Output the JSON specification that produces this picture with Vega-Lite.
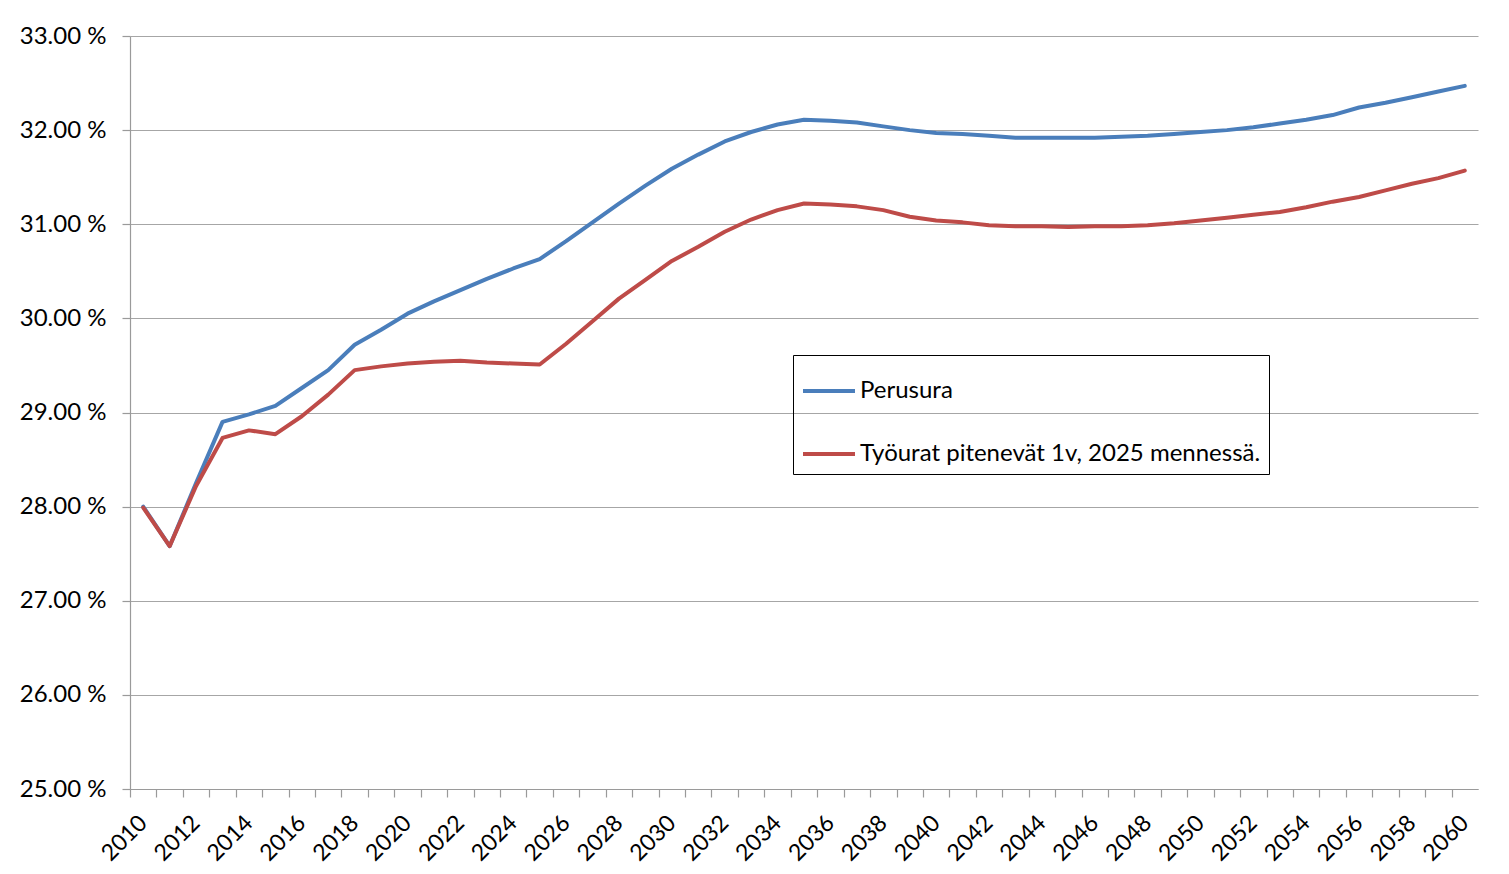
{
  "$schema": "https://vega.github.io/schema/vega-lite/v6.json",
  "autosize": {"type": "none"},
  "width": 1348,
  "height": 753,
  "padding": {"left": 130, "top": 36, "right": 31, "bottom": 85},
  "background": "white",
  "config": {
    "font": "Lato",
    "view": {"stroke": null},
    "axis": {"labelFont": "Lato", "labelColor": "#000000", "domainColor": "#9a9a9a", "tickColor": "#9a9a9a", "gridColor": "#a6a6a6", "gridWidth": 1.2, "domainWidth": 1.2, "tickWidth": 1.2}
  },
  "data": {"values": [
    {"year": 2010, "series": "Perusura", "value": 28.00},
    {"year": 2011, "series": "Perusura", "value": 27.58},
    {"year": 2012, "series": "Perusura", "value": 28.25},
    {"year": 2013, "series": "Perusura", "value": 28.90},
    {"year": 2014, "series": "Perusura", "value": 28.98},
    {"year": 2015, "series": "Perusura", "value": 29.07},
    {"year": 2016, "series": "Perusura", "value": 29.26},
    {"year": 2017, "series": "Perusura", "value": 29.45},
    {"year": 2018, "series": "Perusura", "value": 29.72},
    {"year": 2019, "series": "Perusura", "value": 29.88},
    {"year": 2020, "series": "Perusura", "value": 30.05},
    {"year": 2021, "series": "Perusura", "value": 30.18},
    {"year": 2022, "series": "Perusura", "value": 30.30},
    {"year": 2023, "series": "Perusura", "value": 30.42},
    {"year": 2024, "series": "Perusura", "value": 30.53},
    {"year": 2025, "series": "Perusura", "value": 30.63},
    {"year": 2026, "series": "Perusura", "value": 30.82},
    {"year": 2027, "series": "Perusura", "value": 31.02},
    {"year": 2028, "series": "Perusura", "value": 31.22},
    {"year": 2029, "series": "Perusura", "value": 31.41},
    {"year": 2030, "series": "Perusura", "value": 31.59},
    {"year": 2031, "series": "Perusura", "value": 31.74},
    {"year": 2032, "series": "Perusura", "value": 31.88},
    {"year": 2033, "series": "Perusura", "value": 31.98},
    {"year": 2034, "series": "Perusura", "value": 32.06},
    {"year": 2035, "series": "Perusura", "value": 32.11},
    {"year": 2036, "series": "Perusura", "value": 32.10},
    {"year": 2037, "series": "Perusura", "value": 32.08},
    {"year": 2038, "series": "Perusura", "value": 32.04},
    {"year": 2039, "series": "Perusura", "value": 32.00},
    {"year": 2040, "series": "Perusura", "value": 31.97},
    {"year": 2041, "series": "Perusura", "value": 31.96},
    {"year": 2042, "series": "Perusura", "value": 31.94},
    {"year": 2043, "series": "Perusura", "value": 31.92},
    {"year": 2044, "series": "Perusura", "value": 31.92},
    {"year": 2045, "series": "Perusura", "value": 31.92},
    {"year": 2046, "series": "Perusura", "value": 31.92},
    {"year": 2047, "series": "Perusura", "value": 31.93},
    {"year": 2048, "series": "Perusura", "value": 31.94},
    {"year": 2049, "series": "Perusura", "value": 31.96},
    {"year": 2050, "series": "Perusura", "value": 31.98},
    {"year": 2051, "series": "Perusura", "value": 32.00},
    {"year": 2052, "series": "Perusura", "value": 32.03},
    {"year": 2053, "series": "Perusura", "value": 32.07},
    {"year": 2054, "series": "Perusura", "value": 32.11},
    {"year": 2055, "series": "Perusura", "value": 32.16},
    {"year": 2056, "series": "Perusura", "value": 32.24},
    {"year": 2057, "series": "Perusura", "value": 32.29},
    {"year": 2058, "series": "Perusura", "value": 32.35},
    {"year": 2059, "series": "Perusura", "value": 32.41},
    {"year": 2060, "series": "Perusura", "value": 32.47},
    {"year": 2010, "series": "Työurat pitenevät 1v, 2025 mennessä.", "value": 27.99},
    {"year": 2011, "series": "Työurat pitenevät 1v, 2025 mennessä.", "value": 27.58},
    {"year": 2012, "series": "Työurat pitenevät 1v, 2025 mennessä.", "value": 28.22},
    {"year": 2013, "series": "Työurat pitenevät 1v, 2025 mennessä.", "value": 28.73},
    {"year": 2014, "series": "Työurat pitenevät 1v, 2025 mennessä.", "value": 28.81},
    {"year": 2015, "series": "Työurat pitenevät 1v, 2025 mennessä.", "value": 28.77},
    {"year": 2016, "series": "Työurat pitenevät 1v, 2025 mennessä.", "value": 28.96},
    {"year": 2017, "series": "Työurat pitenevät 1v, 2025 mennessä.", "value": 29.19},
    {"year": 2018, "series": "Työurat pitenevät 1v, 2025 mennessä.", "value": 29.45},
    {"year": 2019, "series": "Työurat pitenevät 1v, 2025 mennessä.", "value": 29.49},
    {"year": 2020, "series": "Työurat pitenevät 1v, 2025 mennessä.", "value": 29.52},
    {"year": 2021, "series": "Työurat pitenevät 1v, 2025 mennessä.", "value": 29.54},
    {"year": 2022, "series": "Työurat pitenevät 1v, 2025 mennessä.", "value": 29.55},
    {"year": 2023, "series": "Työurat pitenevät 1v, 2025 mennessä.", "value": 29.53},
    {"year": 2024, "series": "Työurat pitenevät 1v, 2025 mennessä.", "value": 29.52},
    {"year": 2025, "series": "Työurat pitenevät 1v, 2025 mennessä.", "value": 29.51},
    {"year": 2026, "series": "Työurat pitenevät 1v, 2025 mennessä.", "value": 29.73},
    {"year": 2027, "series": "Työurat pitenevät 1v, 2025 mennessä.", "value": 29.97},
    {"year": 2028, "series": "Työurat pitenevät 1v, 2025 mennessä.", "value": 30.21},
    {"year": 2029, "series": "Työurat pitenevät 1v, 2025 mennessä.", "value": 30.41},
    {"year": 2030, "series": "Työurat pitenevät 1v, 2025 mennessä.", "value": 30.61},
    {"year": 2031, "series": "Työurat pitenevät 1v, 2025 mennessä.", "value": 30.76},
    {"year": 2032, "series": "Työurat pitenevät 1v, 2025 mennessä.", "value": 30.92},
    {"year": 2033, "series": "Työurat pitenevät 1v, 2025 mennessä.", "value": 31.05},
    {"year": 2034, "series": "Työurat pitenevät 1v, 2025 mennessä.", "value": 31.15},
    {"year": 2035, "series": "Työurat pitenevät 1v, 2025 mennessä.", "value": 31.22},
    {"year": 2036, "series": "Työurat pitenevät 1v, 2025 mennessä.", "value": 31.21},
    {"year": 2037, "series": "Työurat pitenevät 1v, 2025 mennessä.", "value": 31.19},
    {"year": 2038, "series": "Työurat pitenevät 1v, 2025 mennessä.", "value": 31.15},
    {"year": 2039, "series": "Työurat pitenevät 1v, 2025 mennessä.", "value": 31.08},
    {"year": 2040, "series": "Työurat pitenevät 1v, 2025 mennessä.", "value": 31.04},
    {"year": 2041, "series": "Työurat pitenevät 1v, 2025 mennessä.", "value": 31.02},
    {"year": 2042, "series": "Työurat pitenevät 1v, 2025 mennessä.", "value": 30.99},
    {"year": 2043, "series": "Työurat pitenevät 1v, 2025 mennessä.", "value": 30.98},
    {"year": 2044, "series": "Työurat pitenevät 1v, 2025 mennessä.", "value": 30.98},
    {"year": 2045, "series": "Työurat pitenevät 1v, 2025 mennessä.", "value": 30.97},
    {"year": 2046, "series": "Työurat pitenevät 1v, 2025 mennessä.", "value": 30.98},
    {"year": 2047, "series": "Työurat pitenevät 1v, 2025 mennessä.", "value": 30.98},
    {"year": 2048, "series": "Työurat pitenevät 1v, 2025 mennessä.", "value": 30.99},
    {"year": 2049, "series": "Työurat pitenevät 1v, 2025 mennessä.", "value": 31.01},
    {"year": 2050, "series": "Työurat pitenevät 1v, 2025 mennessä.", "value": 31.04},
    {"year": 2051, "series": "Työurat pitenevät 1v, 2025 mennessä.", "value": 31.07},
    {"year": 2052, "series": "Työurat pitenevät 1v, 2025 mennessä.", "value": 31.10},
    {"year": 2053, "series": "Työurat pitenevät 1v, 2025 mennessä.", "value": 31.13},
    {"year": 2054, "series": "Työurat pitenevät 1v, 2025 mennessä.", "value": 31.18},
    {"year": 2055, "series": "Työurat pitenevät 1v, 2025 mennessä.", "value": 31.24},
    {"year": 2056, "series": "Työurat pitenevät 1v, 2025 mennessä.", "value": 31.29},
    {"year": 2057, "series": "Työurat pitenevät 1v, 2025 mennessä.", "value": 31.36},
    {"year": 2058, "series": "Työurat pitenevät 1v, 2025 mennessä.", "value": 31.43},
    {"year": 2059, "series": "Työurat pitenevät 1v, 2025 mennessä.", "value": 31.49},
    {"year": 2060, "series": "Työurat pitenevät 1v, 2025 mennessä.", "value": 31.57}
  ]},
  "mark": {"type": "line", "strokeWidth": 4, "strokeCap": "round", "strokeJoin": "round"},
  "encoding": {
    "x": {
      "field": "year",
      "type": "ordinal",
      "scale": {"type": "point", "padding": 0.5},
      "axis": {
        "title": null,
        "labelAngle": -45,
        "labelAlign": "right",
        "labelBaseline": "middle",
        "labelFontSize": 23,
        "labelOffset": 13,
        "labelPadding": 22,
        "labelOverlap": false,
        "tickSize": 8,
        "tickOffset": -13.22,
        "grid": false,
        "labelExpr": "datum.value % 2 == 0 ? datum.label : ''"
      }
    },
    "y": {
      "field": "value",
      "type": "quantitative",
      "scale": {"domain": [25, 33], "nice": false, "zero": false},
      "axis": {
        "title": null,
        "values": [25, 26, 27, 28, 29, 30, 31, 32, 33],
        "labelExpr": "format(datum.value, '.2f') + ' %'",
        "labelFontSize": 24,
        "labelPadding": 16,
        "tickSize": 8,
        "grid": true
      }
    },
    "color": {
      "field": "series",
      "type": "nominal",
      "scale": {"domain": ["Perusura", "Työurat pitenevät 1v, 2025 mennessä."], "range": ["#4A7EBB", "#BE4B48"]},
      "legend": {
        "title": null,
        "orient": "none",
        "legendX": 663,
        "legendY": 319,
        "strokeColor": "#000000",
        "fillColor": null,
        "padding": 8,
        "symbolType": "stroke",
        "symbolSize": 2704,
        "symbolStrokeWidth": 4,
        "labelFontSize": 24,
        "labelColor": "#000000",
        "labelOffset": 3,
        "labelLimit": 1000,
        "rowPadding": 23
      }
    }
  }
}
